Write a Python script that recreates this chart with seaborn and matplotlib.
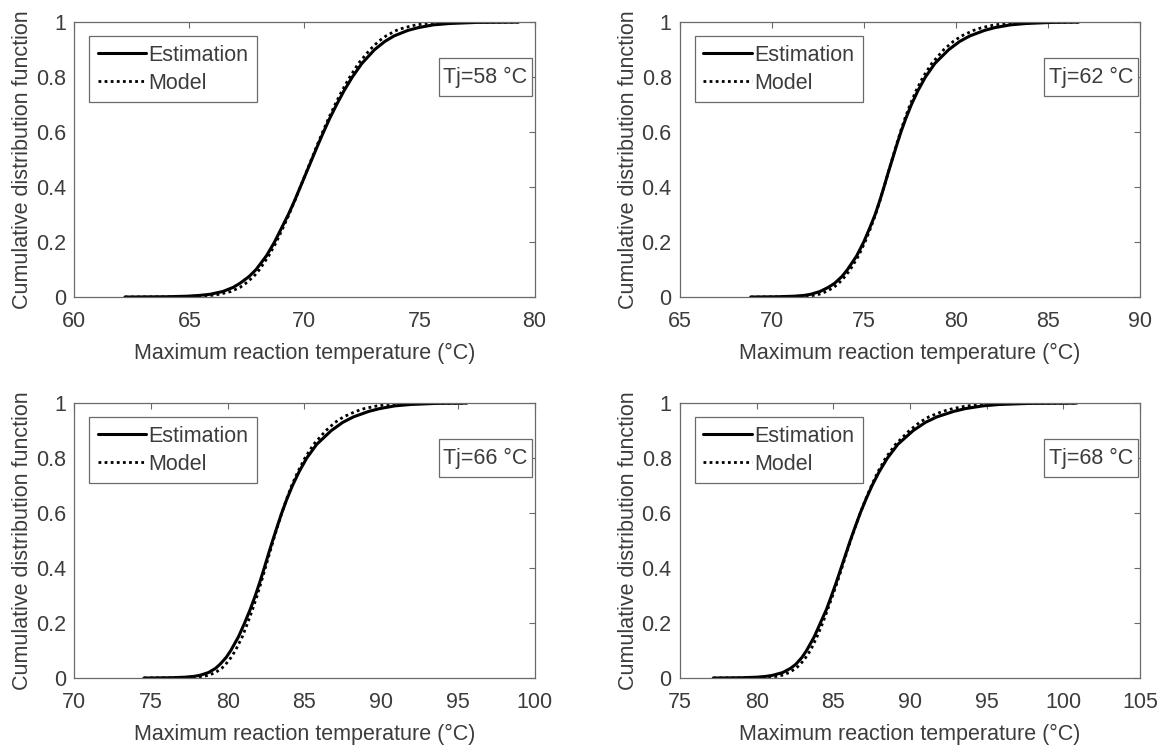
import matplotlib
matplotlib.use("Agg")
import matplotlib.pyplot as plt
from matplotlib.patches import Rectangle
import seaborn as sns
import pandas as pd

# Panel labels and axis ranges
tj_labels = ["Tj=58 °C", "Tj=62 °C", "Tj=66 °C", "Tj=68 °C"]
x_limits = [(60, 80), (65, 90), (70, 100), (75, 105)]

cdf_levels = [0, .001, .003, .006, .01, .02, .035, .05, .075, .1, .15, .2, .25, .3, .35,
              .4, .45, .5, .55, .6, .65, .7, .75, .8, .85, .9, .93, .95, .97, .98, .99,
              .995, .999, 1]

# Panel 1 (Tj=58)
est1_x = [62.2, 64.0, 64.9, 65.45, 65.9, 66.45, 66.9, 67.2, 67.6, 67.9, 68.35, 68.7, 69.0, 69.3,
          69.57, 69.82, 70.07, 70.32, 70.57, 70.83, 71.1, 71.4, 71.72, 72.08, 72.5, 73.05,
          73.5, 73.9, 74.5, 74.95, 75.6, 76.3, 77.5, 79.3]
mod1_x = [62.2, 64.8, 65.5, 65.95, 66.3, 66.8, 67.2, 67.45, 67.8, 68.05, 68.45, 68.78, 69.06,
          69.33, 69.58, 69.82, 70.06, 70.3, 70.54, 70.79, 71.05, 71.33, 71.63, 71.97, 72.35,
          72.85, 73.22, 73.55, 74.0, 74.35, 74.85, 75.3, 76.2, 79.3]

# Panel 2 (Tj=62)
est2_x = [68.84, 70.3, 71.2, 71.75, 72.1, 72.6, 73.05, 73.4, 73.8, 74.1, 74.6, 74.98, 75.3, 75.6,
          75.85, 76.08, 76.3, 76.53, 76.76, 77.0, 77.27, 77.57, 77.92, 78.33, 78.85, 79.6,
          80.2, 80.75, 81.55, 82.1, 82.95, 83.8, 85.2, 86.65]
mod2_x = [68.84, 71.2, 71.85, 72.25, 72.55, 72.95, 73.35, 73.62, 73.97, 74.25, 74.7, 75.05,
          75.35, 75.62, 75.86, 76.08, 76.3, 76.52, 76.74, 76.97, 77.22, 77.5, 77.82, 78.2,
          78.68, 79.33, 79.85, 80.3, 80.95, 81.4, 82.1, 82.7, 83.9, 86.65]

# Panel 3 (Tj=66)
est3_x = [74.54, 76.3, 77.2, 77.8, 78.2, 78.75, 79.2, 79.5, 79.9, 80.2, 80.7, 81.1, 81.47, 81.8,
          82.1, 82.38, 82.65, 82.93, 83.22, 83.52, 83.85, 84.22, 84.65, 85.15, 85.8, 86.75,
          87.5, 88.2, 89.2, 89.9, 90.9, 91.9, 93.6, 95.58]
mod3_x = [74.54, 77.3, 77.95, 78.4, 78.75, 79.2, 79.6, 79.87, 80.22, 80.5, 80.95, 81.3, 81.62,
          81.92, 82.19, 82.45, 82.71, 82.97, 83.24, 83.52, 83.83, 84.17, 84.57, 85.03, 85.6,
          86.4, 87.0, 87.55, 88.35, 88.9, 89.75, 90.5, 91.9, 95.58]

# Panel 4 (Tj=68)
est4_x = [77.17, 79.0, 80.0, 80.6, 81.05, 81.7, 82.2, 82.55, 82.95, 83.25, 83.75, 84.15, 84.55,
          84.88, 85.2, 85.5, 85.8, 86.1, 86.42, 86.75, 87.12, 87.52, 87.98, 88.52, 89.2, 90.2,
          91.0, 91.75, 92.85, 93.6, 94.75, 95.8, 97.8, 100.86]
mod4_x = [77.17, 80.1, 80.85, 81.3, 81.65, 82.12, 82.55, 82.85, 83.2, 83.5, 83.93, 84.3, 84.63,
          84.95, 85.26, 85.55, 85.83, 86.12, 86.43, 86.75, 87.1, 87.48, 87.9, 88.4, 89.05,
          89.95, 90.62, 91.22, 92.12, 92.78, 93.72, 94.55, 96.2, 100.86]

panels = [(est1_x, mod1_x), (est2_x, mod2_x), (est3_x, mod3_x), (est4_x, mod4_x)]

sns.set_style("white")
plt.rcParams["font.family"] = ["Liberation Sans", "DejaVu Sans"]
txt_color = "#3c3c3c"
edge_color = "#6a6a6a"
fs = 15.5

fig = plt.figure(figsize=(11.65, 7.45), dpi=100)

# axes boxes in figure fractions: left, bottom, width, height
boxes = [
    (0.0638, 0.6013, 0.395, 0.369),
    (0.5837, 0.6013, 0.395, 0.369),
    (0.0638, 0.0899, 0.395, 0.369),
    (0.5837, 0.0899, 0.395, 0.369),
]

for i, (ex, mx) in enumerate(panels):
    ax = fig.add_axes(boxes[i])
    est = pd.DataFrame({"temp": ex, "cdf": cdf_levels})
    mod = pd.DataFrame({"temp": mx, "cdf": cdf_levels})
    sns.lineplot(data=est, x="temp", y="cdf", ax=ax, color="black", lw=2.2,
                 sort=False, label="Estimation")
    sns.lineplot(data=mod, x="temp", y="cdf", ax=ax, color="black", lw=2.0,
                 linestyle=(0, (1, 1.2)), sort=False, label="Model")

    lo, hi = x_limits[i]
    ax.set_xlim(lo, hi)
    ax.set_ylim(0, 1)
    ax.set_xticks(range(lo, hi + 1, 5))
    ax.set_yticks([0, 0.2, 0.4, 0.6, 0.8, 1])
    ax.set_yticklabels(["0", "0.2", "0.4", "0.6", "0.8", "1"])
    ax.tick_params(direction="in", length=4, width=0.8, top=True, right=True,
                   labelsize=fs, labelcolor=txt_color, color=edge_color)
    ax.tick_params(axis="x", pad=10)
    ax.tick_params(axis="y", pad=6)
    for s in ax.spines.values():
        s.set_color(edge_color)
        s.set_linewidth(0.9)
    ax.set_xlabel("Maximum reaction temperature (°C)", fontsize=fs,
                  color=txt_color, labelpad=8)
    ax.set_ylabel("Cumulative distribution function", fontsize=fs,
                  color=txt_color, labelpad=2)

    leg = ax.legend(loc="upper left", bbox_to_anchor=(0.032, 0.949),
                    borderaxespad=0, fontsize=fs, fancybox=False,
                    framealpha=1, edgecolor=edge_color, handlelength=2.25,
                    handletextpad=0.1, labelspacing=0.32, borderpad=0.4)
    leg.get_frame().set_linewidth(0.9)
    for t in leg.get_texts():
        t.set_color(txt_color)

    # Tj annotation box
    ax.add_patch(Rectangle((0.792, 0.731), 0.203, 0.138, transform=ax.transAxes,
                           fc="white", ec=edge_color, lw=0.9, zorder=5))
    ax.text(0.8935, 0.800, tj_labels[i], transform=ax.transAxes, ha="center",
            va="center", fontsize=fs, color=txt_color, zorder=6)

fig.savefig("out.png", dpi=100)
